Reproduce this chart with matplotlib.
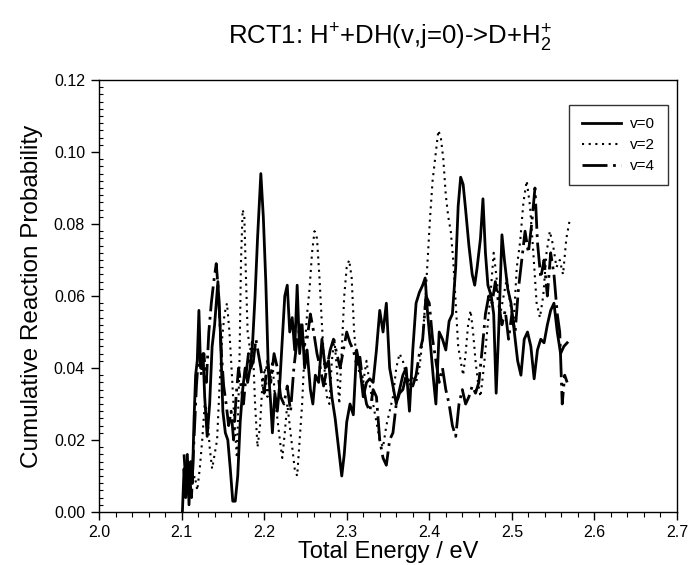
import matplotlib
matplotlib.use("Agg")
import matplotlib.pyplot as plt
from matplotlib.ticker import MultipleLocator, FormatStrFormatter

plt.rcParams['font.family'] = ['Liberation Sans', 'DejaVu Sans']
plt.rcParams['mathtext.fontset'] = 'custom'
plt.rcParams['mathtext.rm'] = 'Liberation Sans'

# ---- data: v=0 (solid) ----
e_v0 = [2.101, 2.103, 2.105, 2.107, 2.109, 2.111, 2.113, 2.115, 2.117, 2.119,
        2.121, 2.123, 2.126, 2.128, 2.131, 2.134, 2.137, 2.140, 2.144, 2.147,
        2.150, 2.153, 2.156, 2.159, 2.162, 2.165, 2.168, 2.171, 2.174, 2.177,
        2.180, 2.183, 2.186, 2.189, 2.192, 2.196, 2.199, 2.202, 2.205, 2.208,
        2.210, 2.213, 2.216, 2.219, 2.222, 2.225, 2.228, 2.231, 2.234, 2.237,
        2.240, 2.243, 2.246, 2.249, 2.252, 2.256, 2.259, 2.262, 2.266, 2.270,
        2.274, 2.278, 2.282, 2.286, 2.290, 2.294, 2.297, 2.300, 2.304, 2.308,
        2.312, 2.316, 2.320, 2.324, 2.328, 2.332, 2.336, 2.340, 2.344, 2.348,
        2.352, 2.356, 2.360, 2.364, 2.368, 2.372, 2.376, 2.380, 2.384, 2.388,
        2.392, 2.395, 2.398, 2.402, 2.405, 2.408, 2.412, 2.416, 2.420, 2.424,
        2.428, 2.432, 2.435, 2.438, 2.441, 2.444, 2.448, 2.452, 2.455, 2.458,
        2.462, 2.465, 2.468, 2.471, 2.475, 2.478, 2.481, 2.484, 2.488, 2.491,
        2.495, 2.499, 2.503, 2.507, 2.511, 2.515, 2.519, 2.523, 2.527, 2.531,
        2.535, 2.539, 2.543, 2.547, 2.551, 2.555, 2.559, 2.563, 2.567]
p_v0 = [0.000, 0.012, 0.004, 0.016, 0.002, 0.014, 0.008, 0.025, 0.038, 0.042,
        0.056, 0.040, 0.044, 0.032, 0.021, 0.030, 0.046, 0.052, 0.064, 0.050,
        0.028, 0.022, 0.020, 0.012, 0.003, 0.003, 0.010, 0.025, 0.034, 0.040,
        0.036, 0.040, 0.047, 0.060, 0.076, 0.094, 0.082, 0.064, 0.040, 0.030,
        0.022, 0.033, 0.028, 0.036, 0.048, 0.060, 0.063, 0.050, 0.054, 0.045,
        0.063, 0.044, 0.052, 0.040, 0.045, 0.034, 0.030, 0.038, 0.036, 0.048,
        0.040, 0.042, 0.032, 0.026, 0.018, 0.010, 0.016, 0.025, 0.030, 0.027,
        0.045, 0.040, 0.032, 0.036, 0.037, 0.036, 0.045, 0.056, 0.050, 0.058,
        0.040, 0.035, 0.030, 0.034, 0.038, 0.040, 0.028, 0.045, 0.058, 0.061,
        0.063, 0.065, 0.055, 0.045, 0.037, 0.030, 0.050, 0.048, 0.045, 0.053,
        0.055, 0.068, 0.085, 0.093, 0.091, 0.084, 0.074, 0.066, 0.063, 0.068,
        0.076, 0.087, 0.072, 0.063, 0.060, 0.055, 0.033, 0.050, 0.077, 0.070,
        0.062, 0.058, 0.050, 0.042, 0.038, 0.048, 0.050, 0.046, 0.037, 0.045,
        0.048, 0.047, 0.052, 0.056, 0.058, 0.050, 0.044, 0.046, 0.047]

# ---- data: v=2 (dotted) ----
e_v2 = [2.110, 2.113, 2.116, 2.119, 2.122, 2.125, 2.128, 2.131, 2.134, 2.137,
        2.140, 2.143, 2.146, 2.149, 2.152, 2.155, 2.158, 2.161, 2.164, 2.167,
        2.170, 2.172, 2.174, 2.176, 2.178, 2.180, 2.183, 2.186, 2.189, 2.192,
        2.195, 2.198, 2.201, 2.204, 2.207, 2.210, 2.213, 2.216, 2.219, 2.222,
        2.225, 2.228, 2.231, 2.234, 2.237, 2.240, 2.243, 2.246, 2.249, 2.252,
        2.255, 2.258, 2.261, 2.264, 2.267, 2.270, 2.273, 2.276, 2.279, 2.282,
        2.285, 2.288, 2.291, 2.294, 2.297, 2.300, 2.303, 2.306, 2.309, 2.312,
        2.316, 2.320, 2.324, 2.328, 2.332, 2.336, 2.340, 2.344, 2.348, 2.352,
        2.356, 2.360, 2.364, 2.368, 2.372, 2.376, 2.380, 2.384, 2.388, 2.392,
        2.395, 2.398, 2.401, 2.404, 2.408, 2.411, 2.414, 2.417, 2.420, 2.423,
        2.426, 2.429, 2.432, 2.435, 2.438, 2.441, 2.444, 2.447, 2.450, 2.453,
        2.456, 2.459, 2.462, 2.466, 2.470, 2.474, 2.478, 2.482, 2.486, 2.490,
        2.494, 2.498, 2.502, 2.506, 2.510, 2.514, 2.518, 2.522, 2.526, 2.530,
        2.534, 2.538, 2.542, 2.546, 2.550, 2.554, 2.558, 2.562, 2.566, 2.570]
p_v2 = [0.004, 0.008, 0.010, 0.006, 0.012, 0.020, 0.030, 0.028, 0.018, 0.012,
        0.016, 0.020, 0.035, 0.048, 0.055, 0.058, 0.050, 0.038, 0.025, 0.015,
        0.040, 0.070, 0.084, 0.082, 0.065, 0.050, 0.045, 0.048, 0.030, 0.018,
        0.024, 0.036, 0.040, 0.032, 0.036, 0.042, 0.032, 0.026, 0.020, 0.015,
        0.022, 0.030, 0.024, 0.018, 0.012, 0.010, 0.020, 0.030, 0.045, 0.055,
        0.062, 0.072, 0.078, 0.076, 0.065, 0.052, 0.040, 0.032, 0.030, 0.042,
        0.048, 0.040, 0.030, 0.045, 0.060, 0.068, 0.070, 0.065, 0.050, 0.042,
        0.038, 0.036, 0.042, 0.035, 0.030, 0.025, 0.020, 0.018, 0.024, 0.028,
        0.032, 0.040, 0.044, 0.042, 0.038, 0.035, 0.038, 0.036, 0.040, 0.048,
        0.058, 0.070, 0.082, 0.092, 0.100, 0.106, 0.104, 0.098, 0.088, 0.082,
        0.078, 0.070, 0.058, 0.046, 0.042, 0.038, 0.044, 0.052, 0.056, 0.050,
        0.042, 0.036, 0.032, 0.040, 0.050, 0.060, 0.072, 0.064, 0.055, 0.060,
        0.065, 0.058, 0.052, 0.068, 0.075, 0.086, 0.092, 0.085, 0.072, 0.058,
        0.054, 0.060, 0.072, 0.078, 0.074, 0.068, 0.070, 0.066, 0.076, 0.081]

# ---- data: v=4 (dash-dot) ----
e_v4 = [2.103, 2.106, 2.109, 2.112, 2.115, 2.118, 2.121, 2.124, 2.127, 2.130,
        2.133, 2.136, 2.139, 2.142, 2.145, 2.148, 2.151, 2.154, 2.157, 2.160,
        2.163, 2.166, 2.169, 2.172, 2.175, 2.178, 2.181, 2.184, 2.187, 2.190,
        2.193, 2.196, 2.200, 2.204, 2.208, 2.212, 2.216, 2.220, 2.224, 2.228,
        2.232, 2.236, 2.240, 2.244, 2.248, 2.252, 2.256, 2.260, 2.264, 2.268,
        2.272, 2.276, 2.280, 2.284, 2.288, 2.292, 2.296, 2.300, 2.304, 2.308,
        2.312, 2.316, 2.320, 2.324, 2.328, 2.332, 2.336, 2.340, 2.344, 2.348,
        2.352, 2.356, 2.360, 2.364, 2.368, 2.372, 2.376, 2.380, 2.384, 2.388,
        2.392, 2.396, 2.400, 2.404, 2.408, 2.412, 2.416, 2.420, 2.424, 2.428,
        2.432, 2.436, 2.440, 2.444, 2.448, 2.452, 2.456, 2.460, 2.464, 2.468,
        2.472, 2.476, 2.480, 2.484, 2.488, 2.492, 2.496, 2.500, 2.504, 2.508,
        2.512, 2.516, 2.520, 2.524, 2.528, 2.531, 2.535, 2.539, 2.543, 2.547,
        2.551, 2.555, 2.558, 2.561, 2.564, 2.567]
p_v4 = [0.016, 0.005, 0.012, 0.004, 0.020, 0.035, 0.045, 0.038, 0.044, 0.036,
        0.050, 0.058, 0.064, 0.069, 0.060, 0.045, 0.035, 0.030, 0.024, 0.028,
        0.020, 0.032, 0.040, 0.035, 0.030, 0.038, 0.044, 0.040, 0.042, 0.048,
        0.044, 0.040, 0.033, 0.042, 0.036, 0.044, 0.040, 0.032, 0.030, 0.035,
        0.028, 0.040, 0.048, 0.052, 0.046, 0.048, 0.055, 0.050, 0.044, 0.040,
        0.035, 0.040, 0.045, 0.048, 0.044, 0.040, 0.045, 0.050, 0.047, 0.045,
        0.041, 0.043, 0.035, 0.030, 0.028, 0.034, 0.032, 0.020, 0.015, 0.013,
        0.020, 0.022, 0.030, 0.033, 0.034, 0.038, 0.036, 0.035, 0.038, 0.044,
        0.048, 0.060, 0.058, 0.048, 0.042, 0.036, 0.040, 0.034, 0.030, 0.024,
        0.021, 0.030, 0.034, 0.030, 0.032, 0.035, 0.033, 0.036, 0.045, 0.055,
        0.060, 0.058, 0.064, 0.058, 0.052, 0.056, 0.048, 0.055, 0.050, 0.062,
        0.070, 0.078, 0.072, 0.080, 0.090, 0.075, 0.065, 0.070, 0.060, 0.072,
        0.066, 0.055, 0.050, 0.030, 0.038, 0.036]

labels = ["v=0", "v=2", "v=4"]

fig = plt.figure(figsize=(6.88, 5.65), dpi=100)
ax = fig.add_axes([0.1439, 0.0938, 0.8401, 0.7646])

ax.plot(e_v0, p_v0, color='black', lw=2.0, linestyle='-', label=labels[0])
ax.plot(e_v2, p_v2, color='black', lw=1.5, linestyle=(0, (1, 2.2)), label=labels[1])
ax.plot(e_v4, p_v4, color='black', lw=2.0, linestyle=(0, (9, 2, 1, 2)), label=labels[2])

ax.set_xlim(2.0, 2.7)
ax.set_ylim(0.0, 0.12)
ax.xaxis.set_major_locator(MultipleLocator(0.1))
ax.xaxis.set_minor_locator(MultipleLocator(0.02))
ax.yaxis.set_major_locator(MultipleLocator(0.02))
ax.yaxis.set_minor_locator(MultipleLocator(0.002))
ax.xaxis.set_major_formatter(FormatStrFormatter('%.1f'))
ax.yaxis.set_major_formatter(FormatStrFormatter('%.2f'))

ax.tick_params(axis='both', which='major', direction='out', length=6, width=1,
               labelsize=11.5, pad=4)
ax.tick_params(axis='x', which='major', pad=3)
ax.tick_params(axis='x', which='minor', direction='out', length=3.5, width=0.8)
ax.tick_params(axis='y', which='minor', direction='in', length=3, width=0.8)
for s in ax.spines.values():
    s.set_linewidth(1.0)

ax.set_xlabel("Total Energy / eV", fontsize=17, labelpad=1)
ax.set_ylabel("Cumulative Reaction Probability", fontsize=17.5, labelpad=8)

fig.text(0.567, 0.933, r"RCT1: H$\mathregular{^{+}}$+DH(v,j=0)->D+H$\mathregular{_{2}^{+}}$",
         ha='center', va='center', fontsize=18.5)

leg = ax.legend(loc='upper right', bbox_to_anchor=(0.997, 0.96), fontsize=11,
                frameon=True, fancybox=False, edgecolor='black', handlelength=2.6,
                borderpad=0.8, labelspacing=0.45, handletextpad=0.6)
leg.get_frame().set_linewidth(1.0)

fig.savefig("out.png", dpi=100)
